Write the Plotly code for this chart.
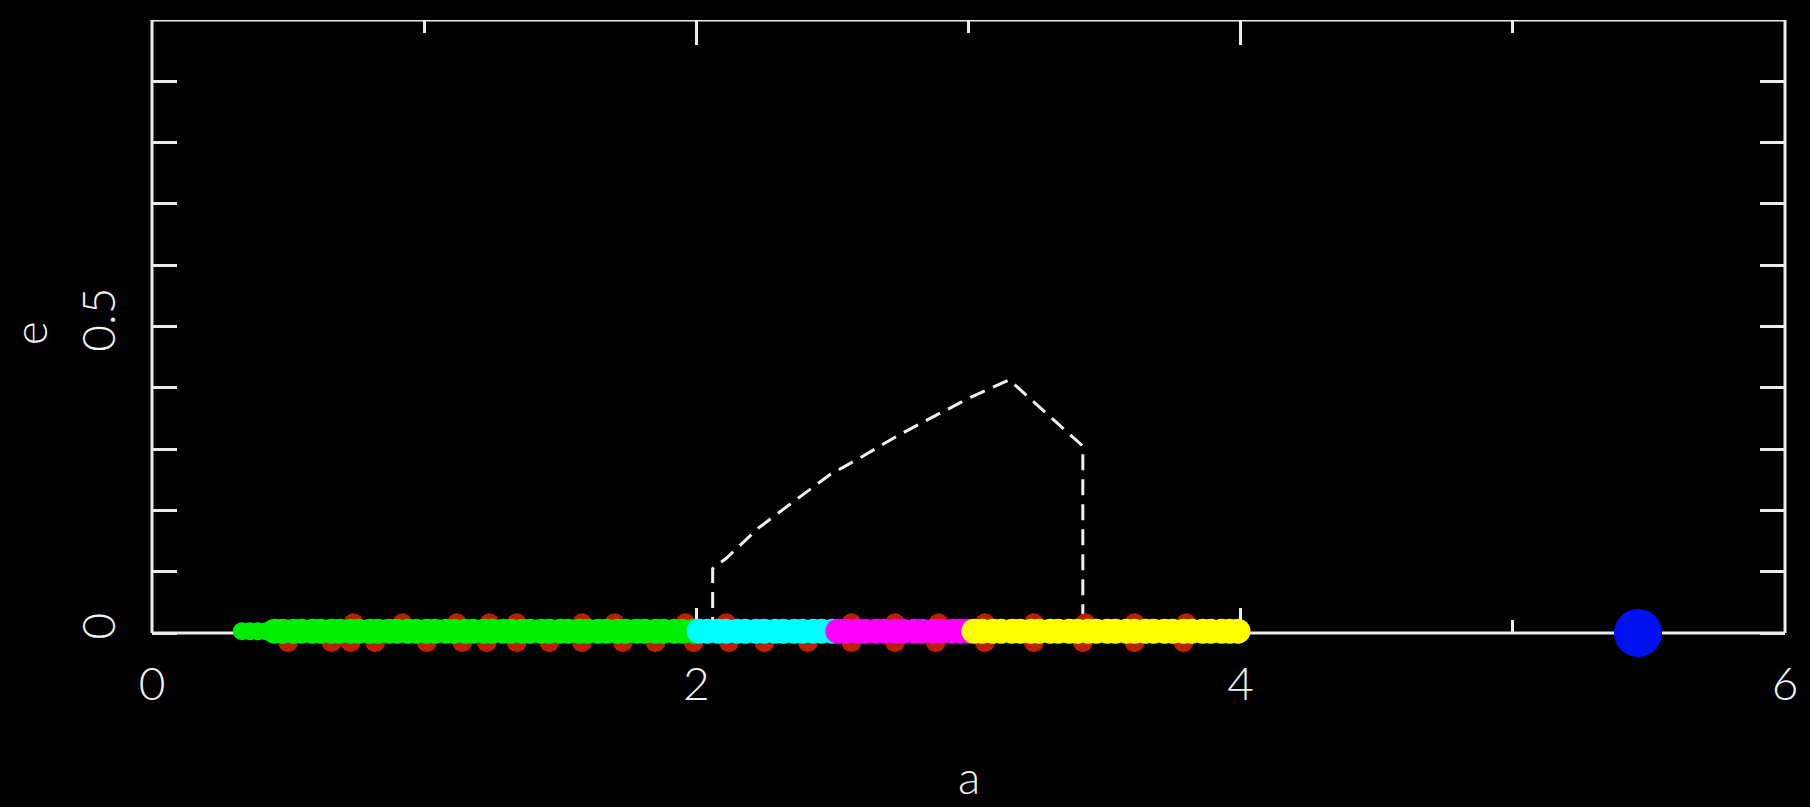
import plotly.graph_objects as go

# Dashed stability boundary in the (a, e) plane
boundary_a = [2.06, 2.06, 2.11, 2.23, 2.365, 2.49, 2.61, 2.74, 2.88, 3.01, 3.15, 3.42, 3.42]
boundary_e = [0.0, 0.105, 0.122, 0.172, 0.217, 0.258, 0.288, 0.322, 0.355, 0.385, 0.413, 0.305, 0.0]

# Red particles just above and just below e = 0
red_low_a = [0.50, 0.66, 0.73, 0.82, 1.01, 1.14, 1.23, 1.34, 1.46, 1.58, 1.73, 1.85,
             1.99, 2.12, 2.25, 2.41, 2.57, 2.73, 2.88, 3.06, 3.24, 3.42, 3.61, 3.79]
red_low_e = [-0.015] * len(red_low_a)
red_high_a = [0.74, 0.92, 1.12, 1.24, 1.34, 1.58, 1.70, 1.96, 2.11, 2.57, 2.73, 2.89,
              3.06, 3.24, 3.43, 3.61, 3.80]
red_high_e = [0.016] * len(red_high_a)

# Coloured particle populations along e ~ 0
green_inner_a = [0.33, 0.36, 0.39, 0.42]
green_a = [0.45, 0.48, 0.52, 0.55, 0.59, 0.62, 0.66, 0.69, 0.73, 0.76, 0.80, 0.83,
           0.87, 0.90, 0.94, 0.97, 1.01, 1.04, 1.08, 1.11, 1.15, 1.18, 1.22, 1.25,
           1.29, 1.32, 1.36, 1.39, 1.43, 1.46, 1.50, 1.53, 1.57, 1.60, 1.64, 1.67,
           1.71, 1.74, 1.78, 1.81, 1.85, 1.88, 1.92, 1.95, 1.99]
cyan_a = [2.01, 2.04, 2.08, 2.11, 2.15, 2.18, 2.22, 2.25, 2.29, 2.32, 2.36, 2.39,
          2.43, 2.46, 2.50]
magenta_a = [2.52, 2.55, 2.59, 2.62, 2.66, 2.69, 2.73, 2.76, 2.80, 2.83, 2.87, 2.90,
             2.94, 2.97, 3.00]
yellow_a = [3.02, 3.05, 3.09, 3.12, 3.16, 3.19, 3.23, 3.26, 3.30, 3.33, 3.37, 3.40,
            3.44, 3.47, 3.51, 3.54, 3.58, 3.61, 3.65, 3.68, 3.72, 3.75, 3.79, 3.82,
            3.86, 3.89, 3.93, 3.96, 3.99]
band_e = 0.003

# Perturbing planet
planet_a = [5.46]
planet_e = [0.0]

x_ticks = [0, 2, 4, 6]
y_ticks = [0, 0.5, 1]
y_tick_text = ["0", "0.5", "1"]

E_MIN = -0.044   # small room under e = 0 so particles straddling it stay visible

AXIS = "#ececec"
FONT = dict(family="Lato, 'Liberation Sans', sans-serif", size=46, color="#f2f2f2", weight=300)

fig = go.Figure()

fig.add_trace(go.Scatter(
    x=boundary_a, y=boundary_e, mode="lines",
    line=dict(color="#f0f0f0", width=3, dash="16px,9px"),
    showlegend=False, hoverinfo="skip"))

for xs, ys in [(red_low_a, red_low_e), (red_high_a, red_high_e)]:
    fig.add_trace(go.Scatter(
        x=xs, y=ys, mode="markers",
        marker=dict(color="#b82000", size=20, line=dict(width=0)),
        cliponaxis=False, showlegend=False))

populations = [
    (green_inner_a, "#00ee00", 18),
    (green_a, "#00ee00", 25),
    (cyan_a, "#00ffff", 25),
    (magenta_a, "#ff00ff", 25),
    (yellow_a, "#ffff00", 25),
]
for xs, col, size in populations:
    fig.add_trace(go.Scatter(
        x=xs, y=[band_e] * len(xs), mode="markers",
        marker=dict(color=col, size=size, line=dict(width=0)),
        cliponaxis=False, showlegend=False))

fig.add_trace(go.Scatter(
    x=planet_a, y=planet_e, mode="markers", xaxis="x2",
    marker=dict(color="#0010f0", size=48, line=dict(width=0)),
    cliponaxis=False, showlegend=False))

minor_x = dict(dtick=1, ticklen=13, tickwidth=3, tickcolor=AXIS, ticks="inside")
minor_y = dict(dtick=0.1, ticklen=13, tickwidth=3, tickcolor=AXIS, ticks="inside")

# plot area runs 20..660 px; e = 0 sits 27 px above its bottom
zero_pos = 27 / 640

fig.update_layout(
    width=1810, height=807,
    margin=dict(l=152, r=22, t=20, b=147),
    paper_bgcolor="black", plot_bgcolor="black",
    xaxis=dict(range=[0, 6], tickvals=x_ticks, showline=False, showgrid=False, zeroline=False,
               anchor="free", position=zero_pos, layer="below traces",
               ticks="inside", ticklen=25, tickwidth=3, tickcolor=AXIS,
               tickfont=FONT, ticklabelstandoff=20, minor=minor_x),
    xaxis2=dict(range=[0, 6], tickvals=x_ticks, overlaying="x", side="top", anchor="y",
                showline=False, showgrid=False, zeroline=False, showticklabels=False,
                ticks="inside", ticklen=25, tickwidth=3, tickcolor=AXIS, minor=minor_x),
    yaxis=dict(range=[E_MIN, 1], tickvals=y_ticks, ticktext=y_tick_text, tickangle=-90,
               showline=False, showgrid=False, zeroline=False, mirror="allticks",
               ticks="inside", ticklen=25, tickwidth=3, tickcolor=AXIS,
               tickfont=FONT, ticklabelstandoff=27, minor=minor_y),
    # frame from (0, 0) to (6, 1), beneath the particles
    shapes=[
        dict(type="line", xref="paper", yref="y", x0=0, x1=1, y0=0, y1=0,
             layer="below", line=dict(color=AXIS, width=3)),
        dict(type="line", xref="paper", yref="y", x0=0, x1=1, y0=1, y1=1,
             layer="below", line=dict(color=AXIS, width=3)),
        dict(type="line", xref="paper", yref="y", x0=0, x1=0, y0=0, y1=1,
             layer="below", line=dict(color=AXIS, width=3)),
        dict(type="line", xref="paper", yref="y", x0=1, x1=1, y0=0, y1=1,
             layer="below", line=dict(color=AXIS, width=3)),
    ],
    annotations=[
        dict(text="a", xref="paper", yref="paper", x=0.5, y=-0.228,
             xanchor="center", yanchor="bottom", showarrow=False, font=FONT),
        dict(text="e", xref="paper", yref="paper", x=-0.075, y=0.51, textangle=-90,
             xanchor="center", yanchor="middle", showarrow=False, font=FONT),
    ],
)

fig.write_html("out.html")
